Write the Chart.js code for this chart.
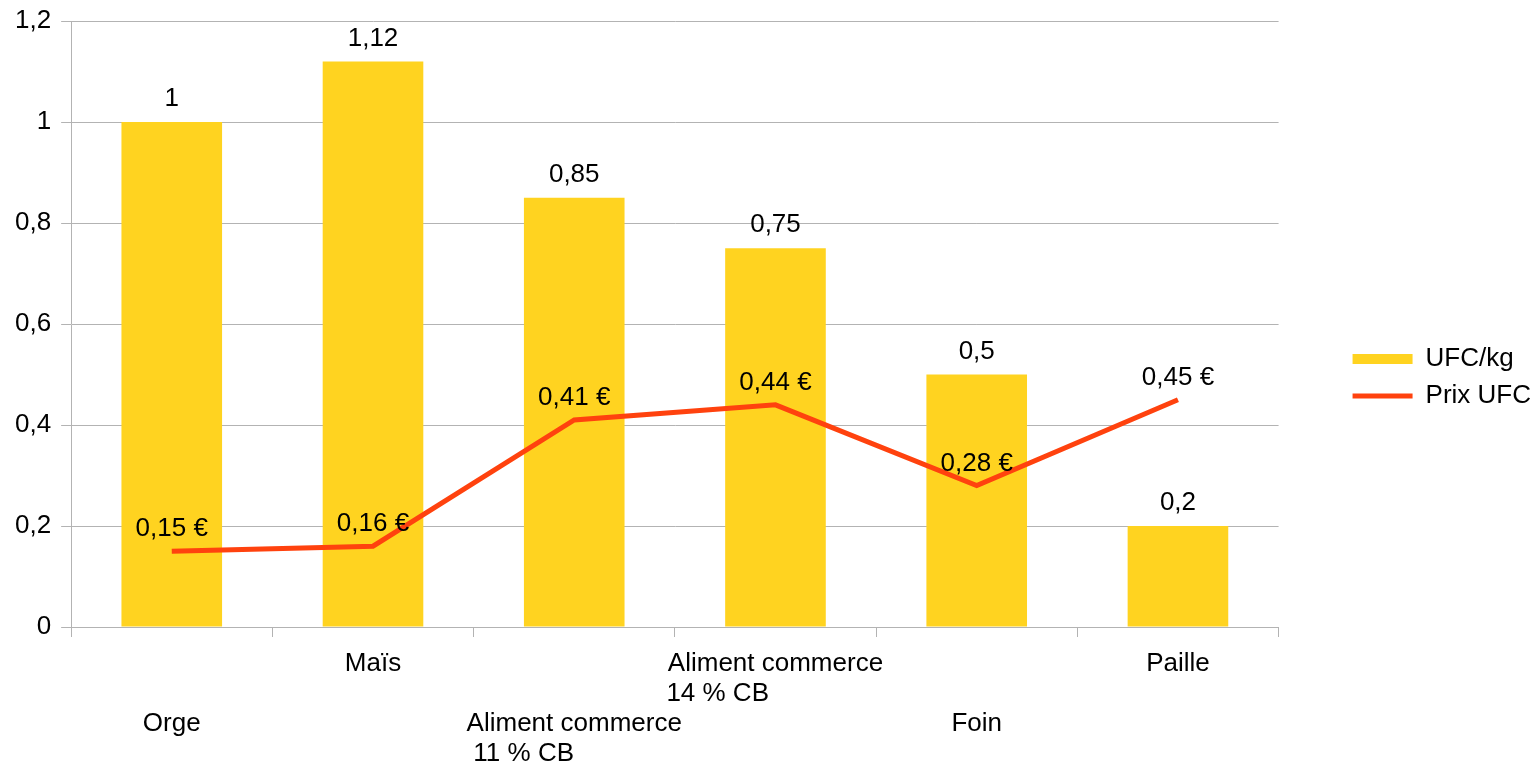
<!DOCTYPE html>
<html>
<head>
<meta charset="utf-8">
<script src="https://cdn.jsdelivr.net/npm/chart.js@4.4.0/dist/chart.umd.min.js"></script>
<style>
  html, body { margin: 0; padding: 0; background: #fff; }
  #wrap { width: 1533px; height: 768px; }
</style>
</head>
<body>
<div id="wrap"><canvas id="chart"></canvas></div>
<script>
// données
const categories = ['Orge', 'Maïs', 'Aliment commerce\n 11 % CB', 'Aliment commerce\n14 % CB', 'Foin', 'Paille'];
const ufcKg = [1, 1.12, 0.85, 0.75, 0.5, 0.2];
const prixUfc = [0.15, 0.16, 0.41, 0.44, 0.28, 0.45];
const yTicks = [0, 0.2, 0.4, 0.6, 0.8, 1, 1.2];

const FONT = '"Liberation Sans", Arial, sans-serif';
const SIZE = 26;
Chart.defaults.font.family = FONT;
Chart.defaults.font.size = SIZE;
Chart.defaults.color = '#000';

function fr(v) {
    return String(Math.round(v * 100) / 100).replace('.', ',');
}

// aligne les lignes à gauche (le texte des ticks est centré)
const measure = document.createElement('canvas').getContext('2d');
measure.font = SIZE + 'px ' + FONT;
function leftAlign(lines) {
    const w = Math.max(...lines.map(l => measure.measureText(l).width));
    const sp = measure.measureText(' ').width;
    return lines.map(l => l + ' '.repeat(Math.max(0, Math.round((w - measure.measureText(l).width) / sp))));
}

const valueLabels = {
    id: 'valueLabels',
    afterDatasetsDraw(chart) {
        const ctx = chart.ctx;
        ctx.save();
        ctx.font = SIZE + 'px ' + FONT;
        ctx.fillStyle = '#000';
        ctx.textAlign = 'center';
        ctx.textBaseline = 'middle';
        chart.getDatasetMeta(0).data.forEach((el, i) => {
            ctx.fillText(fr(ufcKg[i]), el.x, el.y - 23);
        });
        chart.getDatasetMeta(1).data.forEach((el, i) => {
            ctx.fillText(prixUfc[i].toFixed(2).replace('.', ',') + ' €', el.x, el.y - 22);
        });
        ctx.restore();
    }
};

// remonte un peu la légende
const legendShift = {
    id: 'legendShift',
    afterLayout(chart) {
        chart.legend.top -= 13;
        chart.legend.bottom -= 13;
    }
};

new Chart(document.getElementById('chart'), {
    type: 'bar',
    data: {
        labels: categories,
        datasets: [{
            label: 'UFC/kg',
            data: ufcKg,
            backgroundColor: '#ffd320',
            borderWidth: 0,
            barPercentage: 0.5,
            categoryPercentage: 1,
            pointStyle: 'rect',
            order: 1
        }, {
            type: 'line',
            label: 'Prix UFC',
            data: prixUfc,
            borderColor: '#ff420e',
            backgroundColor: '#ff420e',
            borderWidth: 5,
            pointRadius: 0,
            tension: 0,
            pointStyle: 'line',
            order: 0
        }]
    },
    options: {
        responsive: true,
        maintainAspectRatio: false,
        animation: false,
        layout: { padding: { top: 0, left: 5, right: -8, bottom: -13 } },
        plugins: {
            tooltip: { enabled: false },
            legend: {
                position: 'right',
                labels: {
                    usePointStyle: true,
                    pointStyleWidth: 60,
                    boxWidth: 60,
                    boxHeight: 10,
                    padding: 11,
                    sort: (a, b) => a.datasetIndex - b.datasetIndex
                }
            }
        },
        scales: {
            x: {
                grid: {
                    offset: true,
                    drawOnChartArea: false,
                    tickLength: 10,
                    color: '#b3b3b3'
                },
                border: { color: '#b3b3b3' },
                ticks: {
                    autoSkip: false,
                    maxRotation: 0,
                    minRotation: 0,
                    padding: 12,
                    font: { lineHeight: 30 / SIZE },
                    callback: function (value, index) {
                        const lines = leftAlign(categories[index].split('\n'));
                        return index % 2 === 0 ? ['', ''].concat(lines) : lines;
                    }
                }
            },
            y: {
                min: 0,
                max: 1.2,
                afterBuildTicks: (scale) => { scale.ticks = yTicks.map(v => ({ value: v })); },
                grid: { color: '#b3b3b3', tickLength: 10 },
                border: { color: '#b3b3b3' },
                ticks: {
                    padding: 10,
                    font: { lineHeight: 0.85 },
                    callback: (v) => fr(v)
                }
            },
            spacer: {
                position: 'right',
                grid: { display: false },
                border: { display: false },
                ticks: { display: false },
                afterFit: (scale) => { scale.width = 63; }
            }
        }
    },
    plugins: [valueLabels, legendShift]
});
</script>
</body>
</html>
